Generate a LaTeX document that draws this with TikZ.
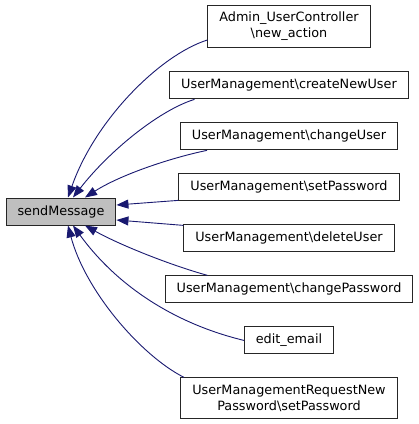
\documentclass[tikz,border=0pt]{standalone}
\usepackage{fontspec}
\setmainfont{DejaVu Sans}
\usepackage{tikz}
\usetikzlibrary{arrows.meta, positioning}
\definecolor{navy1}{RGB}{25,25,112}
\definecolor{gray3}{RGB}{191,191,191}

\begin{document}
\begin{tikzpicture}[
  x=1pt, y=-1pt,
  node distance=23pt,
  func/.style={rectangle, draw=black!85, line width=1pt, fill=white,
               inner xsep=11.5pt, inner ysep=7pt, minimum height=27pt,
               font=\fontsize{12.8pt}{16pt}\selectfont, align=center},
  focus/.style={func, fill=gray3},
  callarr/.style={-{Triangle[length=12pt, width=9pt]}, draw=navy1,
                  line width=0.9pt},
]
\useasboundingbox (0,0) rectangle (419,424);

\node[focus] (send) at (61,211.5) {sendMessage};
\node[func] (admin) at (289,26.5) {Admin\_UserController\\\textbackslash new\_action};
\node[func, below=of admin] (newuser) {UserManagement\textbackslash createNewUser};
\node[func, below=of newuser] (chuser) {UserManagement\textbackslash changeUser};
\node[func, below=of chuser] (setpw) {UserManagement\textbackslash setPassword};
\node[func, below=of setpw] (deluser) {UserManagement\textbackslash deleteUser};
\node[func, below=of deluser] (chpw) {UserManagement\textbackslash changePassword};
\node[func, below=of chpw] (email) {edit\_email};
\node[func, below=of email] (reqpw) {UserManagementRequestNew\\Password\textbackslash setPassword};

% callers -> sendMessage
\draw[callarr] ([yshift=-13.5pt]admin.west) .. controls (160,55) and (95,120) .. ([xshift=7pt]send.north);
\draw[callarr] ([xshift=-94.5pt]newuser.south) .. controls (160,110) and (110,150) .. ([xshift=12pt]send.north);
\draw[callarr] ([xshift=-82pt]chuser.south) .. controls (170,158) and (120,175) .. ([xshift=24pt]send.north);
\draw[callarr] ([yshift=1pt]setpw.south west) -- ([yshift=6.5pt]send.east);
\draw[callarr] ([yshift=-1pt]deluser.north west) -- ([yshift=-8.5pt]send.east);
\draw[callarr] ([xshift=-81.5pt]chpw.north) .. controls (170,265) and (120,245) .. ([xshift=24pt]send.south);
\draw[callarr] (email.west) .. controls (180,325) and (120,290) .. ([xshift=12pt]send.south);
\draw[callarr] ([xshift=-105pt]reqpw.north) .. controls (140,355) and (85,290) .. ([xshift=7pt]send.south);

\end{tikzpicture}
\end{document}
